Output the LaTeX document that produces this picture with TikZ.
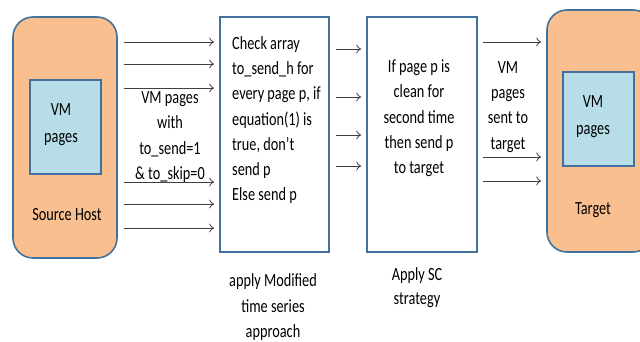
\documentclass[tikz,border=0pt]{standalone}
\usepackage{fontspec}
\usepackage{graphicx}
\setmainfont{Carlito}
\usetikzlibrary{arrows.meta}
\definecolor{orfill}{HTML}{F9BF8F}
\definecolor{bord}{HTML}{41719C}
\definecolor{ltblue}{HTML}{B7DEE8}
\definecolor{arrgray}{HTML}{404040}
\newcommand\tallt[3][25.3]{\scalebox{1}[1.3]{\fontsize{14.3}{#1}\selectfont\setlength{\baselineskip}{#1pt}\def\arraystretch{0.769}\begin{tabular}{@{}#2@{}}#3\end{tabular}}}
\tikzset{
  host/.style={draw=bord, line width=1.6pt, fill=orfill, rounded corners=20pt, inner sep=0pt},
  vmbox/.style={draw=bord, line width=1.6pt, fill=ltblue, inner sep=0pt},
  procbox/.style={draw=bord, line width=1.6pt, fill=white, inner sep=0pt},
  txt/.style={inner sep=0pt, text=black},
  arr/.style={draw=arrgray, line width=0.8pt, -{To[length=5pt,width=9pt]}},
}
\begin{document}
\begin{tikzpicture}[x=1pt,y=-1pt]
\useasboundingbox (0,0) rectangle (640,341);
\clip (0,0) rectangle (640,341);
% source host
\node[host, minimum width=104pt, minimum height=241pt] (src) at (65,137.5) {};
\node[vmbox, minimum width=71pt, minimum height=94pt] (srcvm) at (65.5,127) {};
\node[txt] (srcvmt) at (61,123.5) {\tallt[27]{c}{VM\\pages}};
\node[txt] (srcl) at (67,215) {\tallt{c}{Source Host}};
% process boxes
\node[procbox, minimum width=109pt, minimum height=235pt] (b1) at (274.5,134.5) {};
\node[procbox, minimum width=110pt, minimum height=235pt] (b2) at (422,134.5) {};
\node[txt, anchor=west] (b1t) at (232,120) {\tallt{l}{Check array\\to\_send\_h for\\every page p, if\\equation(1) is\\true, don’t\\send p\\Else send p}};
\node[txt] (b2t) at (419,118) {\tallt{c}{If page p is\\clean for\\second time\\then send p\\to target}};
% target
\node[host, minimum width=106pt, minimum height=242pt] (tgt) at (600,131) {};
\node[vmbox, minimum width=71pt, minimum height=94pt] (tgtvm) at (598.5,119) {};
\node[txt] (tgtvmt) at (593,115.5) {\tallt[27]{c}{VM\\pages}};
\node[txt] (tgtl) at (593,209) {\tallt{c}{Target}};
% arrows source -> box1
\foreach \yy in {42,64,88,182,204,228}{
  \draw[arr] ([xshift=6pt]src.east |- 0,\yy) -- ([xshift=-5pt]b1.west |- 0,\yy);
}
\node[txt] (lab1) at (170,136.5) {\tallt{c}{VM pages\\with\\to\_send=1\\\&\ to\_skip=0}};
% arrows box1 -> box2
\foreach \yy in {49,97,135,166}{
  \draw[arr] ([xshift=6pt]b1.east |- 0,\yy) -- ([xshift=-5pt]b2.west |- 0,\yy);
}
% arrows box2 -> target
\foreach \yy in {42,157,181}{
  \draw[arr] ([xshift=5pt]b2.east |- 0,\yy) -- ([xshift=-5pt]tgt.west |- 0,\yy);
}
\node[txt] (lab2) at (508,106) {\tallt{c}{VM\\pages\\sent to\\target}};
% bottom labels
\node[txt] (cap1) at (273,307) {\tallt{c}{apply Modified\\time series\\approach}};
\node[txt] (cap2) at (417,288) {\tallt[23.5]{c}{Apply SC\\strategy}};
\end{tikzpicture}
\end{document}
